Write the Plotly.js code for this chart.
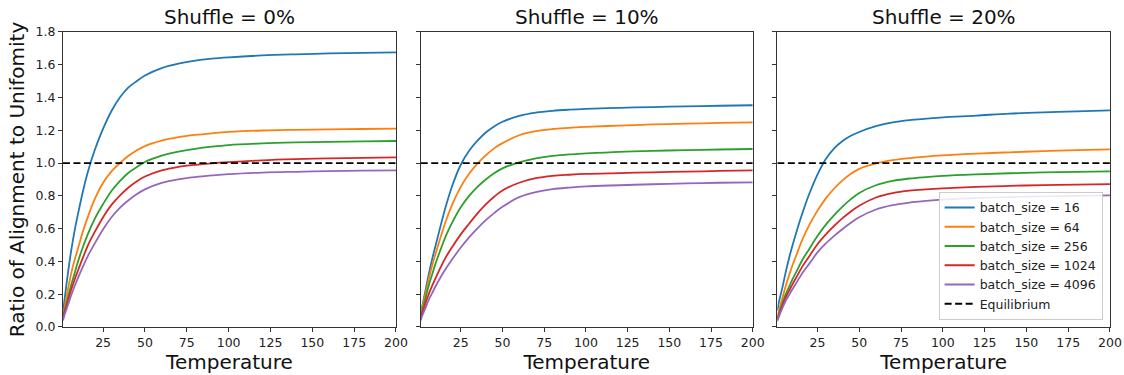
<!DOCTYPE html>
<html>
<head>
<meta charset="utf-8">
<script src="https://cdn.plot.ly/plotly-3.0.1.min.js"></script>
<style>html,body{margin:0;padding:0;background:#fff;}#chart{width:1124px;height:375px;}</style>
</head>
<body>
<div id="chart"></div>
<script>
// Temperature sample points (x)
const temperature = [1, 2, 4, 6, 8, 10, 13, 16, 20, 25, 30, 35, 40, 45, 50, 60, 70, 80, 90, 100, 120, 140, 160, 180, 200];
const batchSizes = [16, 64, 256, 1024, 4096];
const shuffleLabels = ["Shuffle = 0%", "Shuffle = 10%", "Shuffle = 20%"];
const equilibriumX = [1, 200];
const equilibriumY = [1.0, 1.0];

// Shuffle = 0%
const s0_bs16   = [0.09, 0.17, 0.33, 0.47, 0.59, 0.69, 0.83, 0.95, 1.08, 1.21, 1.318, 1.40, 1.46, 1.50, 1.535, 1.58, 1.607, 1.625, 1.637, 1.645, 1.657, 1.664, 1.669, 1.673, 1.676];
const s0_bs64   = [0.07, 0.12, 0.23, 0.33, 0.41, 0.48, 0.585, 0.675, 0.78, 0.88, 0.95, 1.0, 1.043, 1.077, 1.104, 1.137, 1.158, 1.172, 1.182, 1.19, 1.199, 1.203, 1.206, 1.208, 1.21];
const s0_bs256  = [0.06, 0.10, 0.18, 0.26, 0.33, 0.40, 0.49, 0.57, 0.66, 0.75, 0.83, 0.89, 0.94, 0.975, 1.007, 1.045, 1.07, 1.087, 1.10, 1.11, 1.12, 1.126, 1.13, 1.133, 1.135];
const s0_bs1024 = [0.05, 0.09, 0.16, 0.23, 0.29, 0.345, 0.425, 0.50, 0.58, 0.67, 0.745, 0.802, 0.85, 0.888, 0.918, 0.955, 0.977, 0.99, 0.999, 1.006, 1.017, 1.024, 1.029, 1.032, 1.035];
const s0_bs4096 = [0.04, 0.075, 0.135, 0.195, 0.25, 0.30, 0.37, 0.435, 0.51, 0.597, 0.67, 0.727, 0.772, 0.81, 0.84, 0.879, 0.901, 0.915, 0.925, 0.933, 0.942, 0.947, 0.951, 0.954, 0.956];

// Shuffle = 10%
const s10_bs16   = [0.08, 0.13, 0.23, 0.33, 0.42, 0.50, 0.62, 0.735, 0.865, 0.99, 1.075, 1.137, 1.187, 1.224, 1.252, 1.288, 1.308, 1.319, 1.326, 1.331, 1.337, 1.342, 1.346, 1.35, 1.353];
const s10_bs64   = [0.07, 0.12, 0.21, 0.30, 0.38, 0.45, 0.55, 0.645, 0.75, 0.855, 0.935, 0.997, 1.047, 1.09, 1.122, 1.17, 1.195, 1.208, 1.215, 1.221, 1.229, 1.236, 1.241, 1.245, 1.249];
const s10_bs256  = [0.06, 0.10, 0.18, 0.26, 0.325, 0.39, 0.475, 0.555, 0.64, 0.73, 0.80, 0.855, 0.90, 0.938, 0.968, 1.005, 1.029, 1.044, 1.053, 1.059, 1.069, 1.075, 1.079, 1.083, 1.086];
const s10_bs1024 = [0.05, 0.085, 0.15, 0.205, 0.255, 0.30, 0.365, 0.425, 0.49, 0.565, 0.63, 0.693, 0.748, 0.795, 0.833, 0.88, 0.908, 0.922, 0.929, 0.934, 0.939, 0.944, 0.948, 0.952, 0.956];
const s10_bs4096 = [0.04, 0.07, 0.12, 0.17, 0.21, 0.25, 0.305, 0.355, 0.415, 0.485, 0.547, 0.602, 0.652, 0.695, 0.733, 0.792, 0.823, 0.841, 0.851, 0.858, 0.865, 0.871, 0.876, 0.88, 0.883];

// Shuffle = 20%
const s20_bs16   = [0.10, 0.155, 0.24, 0.335, 0.42, 0.495, 0.60, 0.695, 0.81, 0.93, 1.025, 1.09, 1.135, 1.167, 1.19, 1.225, 1.248, 1.262, 1.271, 1.279, 1.29, 1.302, 1.31, 1.316, 1.322];
const s20_bs64   = [0.06, 0.10, 0.175, 0.25, 0.315, 0.375, 0.455, 0.535, 0.62, 0.71, 0.785, 0.845, 0.895, 0.935, 0.965, 0.998, 1.018, 1.031, 1.04, 1.047, 1.058, 1.066, 1.073, 1.079, 1.084];
const s20_bs256  = [0.05, 0.085, 0.145, 0.20, 0.245, 0.29, 0.35, 0.41, 0.475, 0.555, 0.625, 0.683, 0.735, 0.78, 0.818, 0.865, 0.891, 0.906, 0.915, 0.922, 0.931, 0.938, 0.943, 0.947, 0.95];
const s20_bs1024 = [0.045, 0.075, 0.13, 0.18, 0.22, 0.26, 0.315, 0.37, 0.43, 0.505, 0.565, 0.617, 0.664, 0.705, 0.74, 0.79, 0.817, 0.832, 0.84, 0.846, 0.855, 0.861, 0.866, 0.869, 0.872];
const s20_bs4096 = [0.035, 0.065, 0.115, 0.16, 0.195, 0.23, 0.28, 0.33, 0.385, 0.455, 0.51, 0.556, 0.598, 0.636, 0.67, 0.717, 0.743, 0.759, 0.769, 0.777, 0.787, 0.793, 0.797, 0.80, 0.803];

const panels = [
  [s0_bs16, s0_bs64, s0_bs256, s0_bs1024, s0_bs4096],
  [s10_bs16, s10_bs64, s10_bs256, s10_bs1024, s10_bs4096],
  [s20_bs16, s20_bs64, s20_bs256, s20_bs1024, s20_bs4096]
];
const colors = ["#1f77b4", "#ff7f0e", "#2ca02c", "#d62728", "#9467bd"];
const FONT = "DejaVu Sans, Liberation Sans, sans-serif";

const traces = [];
panels.forEach((series, p) => {
  const xa = p === 0 ? "x" : "x" + (p + 1);
  const ya = p === 0 ? "y" : "y" + (p + 1);
  series.forEach((vals, i) => {
    traces.push({
      x: temperature, y: vals, xaxis: xa, yaxis: ya,
      type: "scatter", mode: "lines",
      line: {color: colors[i], width: 1.8, shape: "spline", smoothing: 1},
      name: "batch_size = " + batchSizes[i],
      showlegend: p === 2, hoverinfo: "skip"
    });
  });
  traces.push({
    x: equilibriumX, y: equilibriumY, xaxis: xa, yaxis: ya,
    type: "scatter", mode: "lines",
    line: {color: "#000", width: 1.8, dash: "7px,3.5px"},
    name: "Equilibrium", showlegend: p === 2, hoverinfo: "skip"
  });
});

const xDomains = [[0.0560, 0.3523], [0.3743, 0.6697], [0.6916, 0.9875]];
const yDomain = [0.128, 0.9147];

function xAxis(d) {
  return {
    domain: d, range: [1, 200], autorange: false,
    tickmode: "array", tickvals: [25, 50, 75, 100, 125, 150, 175, 200],
    ticks: "outside", ticklen: 4, tickwidth: 1, tickcolor: "#333",
    showline: true, mirror: true, linecolor: "#333", linewidth: 1,
    showgrid: false, zeroline: false,
    tickfont: {family: FONT, size: 12.5, color: "#222"},
    title: {text: "Temperature", font: {family: FONT, size: 20, color: "#111"}, standoff: 5},
    automargin: false, fixedrange: true
  };
}
function yAxis(anchor, labels) {
  return {
    domain: yDomain, range: [0, 1.8], autorange: false, anchor: anchor,
    tickmode: "array", tickvals: [0, 0.2, 0.4, 0.6, 0.8, 1.0, 1.2, 1.4, 1.6, 1.8],
    ticktext: ["0.0", "0.2", "0.4", "0.6", "0.8", "1.0", "1.2", "1.4", "1.6", "1.8"],
    showticklabels: labels,
    ticks: "outside", ticklen: 4, tickwidth: 1, tickcolor: "#333",
    showline: true, mirror: true, linecolor: "#333", linewidth: 1,
    showgrid: false, zeroline: false,
    tickfont: {family: FONT, size: 12.5, color: "#222"},
    automargin: false, fixedrange: true
  };
}

const layout = {
  width: 1124, height: 375,
  margin: {l: 0, r: 0, t: 0, b: 0},
  paper_bgcolor: "#fff", plot_bgcolor: "#fff",
  font: {family: FONT, color: "#111"},
  xaxis: Object.assign(xAxis(xDomains[0]), {anchor: "y"}),
  xaxis2: Object.assign(xAxis(xDomains[1]), {anchor: "y2"}),
  xaxis3: Object.assign(xAxis(xDomains[2]), {anchor: "y3"}),
  yaxis: Object.assign(yAxis("x", true), {
    title: {text: "Ratio of Alignment to Unifomity", font: {family: FONT, size: 20, color: "#111"}, standoff: 5}
  }),
  yaxis2: yAxis("x2", false),
  yaxis3: yAxis("x3", false),
  showlegend: true,
  legend: {
    x: 0.981, y: 0.147, xanchor: "right", yanchor: "bottom",
    bgcolor: "rgba(255,255,255,0.85)", bordercolor: "#cccccc", borderwidth: 1,
    font: {family: FONT, size: 12.5, color: "#222"},
    itemwidth: 30, tracegroupgap: 0
  },
  annotations: shuffleLabels.map((t, i) => ({
    text: t, xref: "paper", yref: "paper",
    x: (xDomains[i][0] + xDomains[i][1]) / 2, y: 0.955,
    xanchor: "center", yanchor: "middle", showarrow: false,
    font: {family: FONT, size: 20, color: "#111"}
  }))
};

Plotly.newPlot("chart", traces, layout, {displayModeBar: false, staticPlot: true});
</script>
</body>
</html>
